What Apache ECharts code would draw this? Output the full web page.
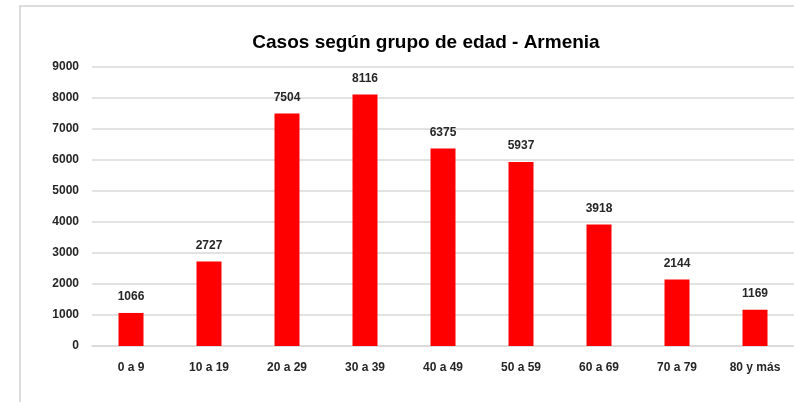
<!DOCTYPE html>
<html>
<head>
<meta charset="utf-8">
<script src="https://cdn.jsdelivr.net/npm/echarts@6/dist/echarts.min.js"></script>
<style>
    html, body { margin: 0; padding: 0; background: #fff; }
    #main { width: 794px; height: 402px; }
</style>
</head>
<body>
<div id="main"></div>
<script>
var titleText = 'Casos según grupo de edad - Armenia';
var categories = ['0 a 9', '10 a 19', '20 a 29', '30 a 39', '40 a 49', '50 a 59', '60 a 69', '70 a 79', '80 y más'];
var casos = [1066, 2727, 7504, 8116, 6375, 5937, 3918, 2144, 1169];

var fontFam = '"Liberation Sans Narrow", "Liberation Sans", Arial, sans-serif';
var textColor = '#262626';
var lineColor = '#d9d9d9';

function buildOption() {
    return {
        animation: false,
        backgroundColor: '#fff',
        title: {
            text: titleText,
            left: 421,
            textAlign: 'center',
            top: 28,
            textStyle: {
                fontFamily: fontFam,
                fontSize: 19,
                fontWeight: 'bold',
                color: '#000'
            }
        },
        graphic: [{
            type: 'rect',
            shape: { x: 20, y: 6, width: 800, height: 420 },
            style: { fill: 'none', stroke: '#dcdcdc', lineWidth: 2 },
            silent: true
        }],
        grid: {
            left: 92,
            top: 67,
            width: 706,
            height: 279
        },
        xAxis: {
            type: 'category',
            data: categories,
            axisTick: { show: false },
            axisLine: { lineStyle: { color: lineColor, width: 1.5 } },
            axisLabel: {
                margin: 16,
                color: textColor,
                fontFamily: fontFam,
                fontSize: 12,
                fontWeight: 'bold',
                interval: 0
            }
        },
        yAxis: {
            type: 'value',
            min: 0,
            max: 9000,
            interval: 1000,
            axisLine: { show: false },
            axisTick: { show: false },
            splitLine: { lineStyle: { color: lineColor, width: 1.5 } },
            axisLabel: {
                margin: 13,
                color: textColor,
                fontFamily: fontFam,
                fontSize: 12,
                fontWeight: 'bold',
                formatter: function (v) { return String(v); }
            }
        },
        series: [{
            type: 'bar',
            data: casos,
            barWidth: 25,
            itemStyle: { color: '#ff0000' },
            label: {
                show: true,
                position: 'top',
                distance: 10,
                color: textColor,
                fontFamily: fontFam,
                fontSize: 12,
                fontWeight: 'bold'
            }
        }]
    };
}

var chart = echarts.init(document.getElementById('main'));
chart.setOption(buildOption());
</script>
</body>
</html>
